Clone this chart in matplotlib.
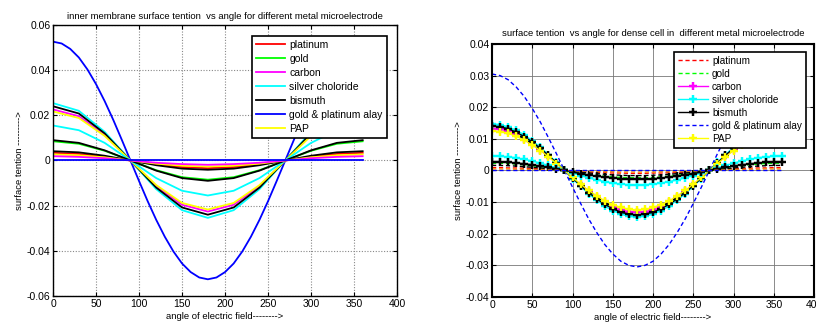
import matplotlib
matplotlib.use("Agg")
import matplotlib.pyplot as plt
from matplotlib.ticker import FixedLocator

plt.rcParams['font.family'] = ['Liberation Sans', 'DejaVu Sans']

# ---------------- data ----------------
labels = ["platinum", "gold", "carbon", "silver choloride", "bismuth",
          "gold & platinum alay", "PAP"]

# left panel: angle grid (coarse) and fine grid
angle_30 = [0, 30, 60, 90, 120, 150, 180, 210, 240, 270, 300, 330, 360]
angle_10 = [0, 10, 20, 30, 40, 50, 60, 70, 80, 90, 100, 110, 120, 130, 140, 150,
            160, 170, 180, 190, 200, 210, 220, 230, 240, 250, 260, 270, 280, 290,
            300, 310, 320, 330, 340, 350, 360]

L_platinum = [0.0034, 0.0029, 0.0017, 0, -0.0017, -0.0029, -0.0034, -0.0029, -0.0017, 0, 0.0017, 0.0029, 0.0034]
L_gold = [0.0085, 0.0074, 0.0043, 0, -0.0043, -0.0074, -0.0085, -0.0074, -0.0043, 0, 0.0043, 0.0074, 0.0085]
L_carbon = [0.0226, 0.0196, 0.0113, 0, -0.0113, -0.0196, -0.0226, -0.0196, -0.0113, 0, 0.0113, 0.0196, 0.0226]
L_silver = [0.0254, 0.0220, 0.0127, 0, -0.0127, -0.0220, -0.0254, -0.0220, -0.0127, 0, 0.0127, 0.0220, 0.0254]
L_bismuth = [0.0240, 0.0208, 0.0120, 0, -0.0120, -0.0208, -0.0240, -0.0208, -0.0120, 0, 0.0120, 0.0208, 0.0240]
L_alay = [0.0526, 0.0518, 0.0494, 0.0456, 0.0403, 0.0338, 0.0263, 0.0180, 0.0091, 0,
          -0.0091, -0.0180, -0.0263, -0.0338, -0.0403, -0.0456, -0.0494, -0.0518, -0.0526,
          -0.0518, -0.0494, -0.0456, -0.0403, -0.0338, -0.0263, -0.0180, -0.0091, 0,
          0.0091, 0.0180, 0.0263, 0.0338, 0.0403, 0.0456, 0.0494, 0.0518, 0.0526]
L_pap = [0.0217, 0.0188, 0.0109, 0, -0.0109, -0.0188, -0.0217, -0.0188, -0.0109, 0, 0.0109, 0.0188, 0.0217]
# extra curves (second columns)
L_silver2 = [0.0155, 0.0134, 0.0078, 0, -0.0078, -0.0134, -0.0155, -0.0134, -0.0078, 0, 0.0078, 0.0134, 0.0155]
L_bismuth2 = [0.0090, 0.0078, 0.0045, 0, -0.0045, -0.0078, -0.0090, -0.0078, -0.0045, 0, 0.0045, 0.0078, 0.0090]
L_bismuth3 = [0.0041, 0.0036, 0.0021, 0, -0.0021, -0.0036, -0.0041, -0.0036, -0.0021, 0, 0.0021, 0.0036, 0.0041]
L_pap2 = [0.0027, 0.0023, 0.0014, 0, -0.0014, -0.0023, -0.0027, -0.0023, -0.0014, 0, 0.0014, 0.0023, 0.0027]
L_carbon2 = [0.0019, 0.0016, 0.0010, 0, -0.0010, -0.0016, -0.0019, -0.0016, -0.0010, 0, 0.0010, 0.0016, 0.0019]
L_alay2 = [0, 0, 0, 0, 0, 0, 0, 0, 0, 0, 0, 0, 0]

# right panel (10 degree steps)
R_platinum = [0.0009, 0.0009, 0.0008, 0.0008, 0.0007, 0.0006, 0.0005, 0.0003, 0.0002, 0,
              -0.0002, -0.0003, -0.0005, -0.0006, -0.0007, -0.0008, -0.0008, -0.0009, -0.0009,
              -0.0009, -0.0008, -0.0008, -0.0007, -0.0006, -0.0005, -0.0003, -0.0002, 0,
              0.0002, 0.0003, 0.0005, 0.0006, 0.0007, 0.0008, 0.0008, 0.0009, 0.0009]
R_gold = [0.0023, 0.0023, 0.0022, 0.0020, 0.0018, 0.0015, 0.0012, 0.0008, 0.0004, 0,
          -0.0004, -0.0008, -0.0012, -0.0015, -0.0018, -0.0020, -0.0022, -0.0023, -0.0023,
          -0.0023, -0.0022, -0.0020, -0.0018, -0.0015, -0.0012, -0.0008, -0.0004, 0,
          0.0004, 0.0008, 0.0012, 0.0015, 0.0018, 0.0020, 0.0022, 0.0023, 0.0023]
R_carbon = [0.0132, 0.0130, 0.0124, 0.0114, 0.0101, 0.0085, 0.0066, 0.0045, 0.0023, 0,
            -0.0023, -0.0045, -0.0066, -0.0085, -0.0101, -0.0114, -0.0124, -0.0130, -0.0132,
            -0.0130, -0.0124, -0.0114, -0.0101, -0.0085, -0.0066, -0.0045, -0.0023, 0,
            0.0023, 0.0045, 0.0066, 0.0085, 0.0101, 0.0114, 0.0124, 0.0130, 0.0132]
R_silver = [0.0147, 0.0145, 0.0138, 0.0127, 0.0113, 0.0094, 0.0074, 0.0050, 0.0026, 0,
            -0.0026, -0.0050, -0.0074, -0.0094, -0.0113, -0.0127, -0.0138, -0.0145, -0.0147,
            -0.0145, -0.0138, -0.0127, -0.0113, -0.0094, -0.0074, -0.0050, -0.0026, 0,
            0.0026, 0.0050, 0.0074, 0.0094, 0.0113, 0.0127, 0.0138, 0.0145, 0.0147]
R_bismuth = [0.0140, 0.0138, 0.0132, 0.0121, 0.0107, 0.0090, 0.0070, 0.0048, 0.0024, 0,
             -0.0024, -0.0048, -0.0070, -0.0090, -0.0107, -0.0121, -0.0132, -0.0138, -0.0140,
             -0.0138, -0.0132, -0.0121, -0.0107, -0.0090, -0.0070, -0.0048, -0.0024, 0,
             0.0024, 0.0048, 0.0070, 0.0090, 0.0107, 0.0121, 0.0132, 0.0138, 0.0140]
R_alay = [0.0305, 0.0300, 0.0287, 0.0264, 0.0234, 0.0196, 0.0153, 0.0104, 0.0053, 0,
          -0.0053, -0.0104, -0.0153, -0.0196, -0.0234, -0.0264, -0.0287, -0.0300, -0.0305,
          -0.0300, -0.0287, -0.0264, -0.0234, -0.0196, -0.0153, -0.0104, -0.0053, 0,
          0.0053, 0.0104, 0.0153, 0.0196, 0.0234, 0.0264, 0.0287, 0.0300, 0.0305]
R_pap = [0.0125, 0.0123, 0.0117, 0.0108, 0.0096, 0.0080, 0.0063, 0.0043, 0.0022, 0,
         -0.0022, -0.0043, -0.0063, -0.0080, -0.0096, -0.0108, -0.0117, -0.0123, -0.0125,
         -0.0123, -0.0117, -0.0108, -0.0096, -0.0080, -0.0063, -0.0043, -0.0022, 0,
         0.0022, 0.0043, 0.0063, 0.0080, 0.0096, 0.0108, 0.0117, 0.0123, 0.0125]
R_silver2 = [0.0046, 0.0045, 0.0043, 0.0040, 0.0035, 0.0030, 0.0023, 0.0016, 0.0008, 0,
             -0.0008, -0.0016, -0.0023, -0.0030, -0.0035, -0.0040, -0.0043, -0.0045, -0.0046,
             -0.0045, -0.0043, -0.0040, -0.0035, -0.0030, -0.0023, -0.0016, -0.0008, 0,
             0.0008, 0.0016, 0.0023, 0.0030, 0.0035, 0.0040, 0.0043, 0.0045, 0.0046]
R_bismuth2 = [0.0028, 0.0028, 0.0026, 0.0024, 0.0021, 0.0018, 0.0014, 0.0010, 0.0005, 0,
              -0.0005, -0.0010, -0.0014, -0.0018, -0.0021, -0.0024, -0.0026, -0.0028, -0.0028,
              -0.0028, -0.0026, -0.0024, -0.0021, -0.0018, -0.0014, -0.0010, -0.0005, 0,
              0.0005, 0.0010, 0.0014, 0.0018, 0.0021, 0.0024, 0.0026, 0.0028, 0.0028]
R_bismuth3 = [0.0016, 0.0016, 0.0015, 0.0014, 0.0012, 0.0010, 0.0008, 0.0005, 0.0003, 0,
              -0.0003, -0.0005, -0.0008, -0.0010, -0.0012, -0.0014, -0.0015, -0.0016, -0.0016,
              -0.0016, -0.0015, -0.0014, -0.0012, -0.0010, -0.0008, -0.0005, -0.0003, 0,
              0.0003, 0.0005, 0.0008, 0.0010, 0.0012, 0.0014, 0.0015, 0.0016, 0.0016]
R_pap2 = [0.0005, 0.0005, 0.0005, 0.0004, 0.0004, 0.0003, 0.0003, 0.0002, 0.0001, 0,
          -0.0001, -0.0002, -0.0003, -0.0003, -0.0004, -0.0004, -0.0005, -0.0005, -0.0005,
          -0.0005, -0.0005, -0.0004, -0.0004, -0.0003, -0.0003, -0.0002, -0.0001, 0,
          0.0001, 0.0002, 0.0003, 0.0003, 0.0004, 0.0004, 0.0005, 0.0005, 0.0005]
R_alay2 = [0] * 37

x_ticks = [0, 50, 100, 150, 200, 250, 300, 350, 400]
left_yticks = [-0.06, -0.04, -0.02, 0, 0.02, 0.04, 0.06]
right_yticks = [-0.04, -0.03, -0.02, -0.01, 0, 0.01, 0.02, 0.03, 0.04]

RED, GREEN, MAG, CYAN, BLK, BLUE, YEL = "#ff0000", "#00ff00", "#ff00ff", "#00ffff", "#000000", "#0000ff", "#ffff00"

# ---------------- figure ----------------
fig = plt.figure(figsize=(8.16, 3.25), dpi=100)
axL = fig.add_axes([0.065, 0.0892, 0.4216, 0.834])
axR = fig.add_axes([0.603, 0.0862, 0.3946, 0.7785])

lw = 1.3
# left panel
axL.plot(angle_30, L_platinum, color=RED, lw=lw, label=labels[0])
axL.plot(angle_30, L_gold, color=GREEN, lw=lw, label=labels[1])
axL.plot(angle_30, L_carbon, color=MAG, lw=lw, label=labels[2])
axL.plot(angle_30, L_silver, color=CYAN, lw=lw, label=labels[3])
axL.plot(angle_30, L_bismuth, color=BLK, lw=lw, label=labels[4])
axL.plot(angle_10, L_alay, color=BLUE, lw=lw, label=labels[5])
axL.plot(angle_30, L_pap, color=YEL, lw=lw, label=labels[6])
axL.plot(angle_30, L_silver2, color=CYAN, lw=lw)
axL.plot(angle_30, L_bismuth2, color=BLK, lw=lw)
axL.plot(angle_30, L_bismuth3, color=BLK, lw=lw)
axL.plot(angle_30, L_pap2, color=YEL, lw=lw)
axL.plot(angle_30, L_carbon2, color=MAG, lw=lw)
axL.plot(angle_30, L_alay2, color=BLUE, lw=lw)

# right panel
mk = dict(marker=(4, 2, 0), markersize=5.5, markeredgewidth=1.6)
axR.plot(angle_10, R_platinum, color=RED, lw=1.0, ls=(0, (3, 2)), label=labels[0])
axR.plot(angle_10, R_gold, color=GREEN, lw=1.0, ls=(0, (3, 2)), label=labels[1])
axR.plot(angle_10, R_carbon, color=MAG, lw=1.0, label=labels[2], **mk)
axR.plot(angle_10, R_silver, color=CYAN, lw=1.0, label=labels[3], **mk)
axR.plot(angle_10, R_bismuth, color=BLK, lw=1.0, label=labels[4], **mk)
axR.plot(angle_10, R_alay, color=BLUE, lw=1.0, ls=(0, (3, 2)), label=labels[5])
axR.plot(angle_10, R_pap, color=YEL, lw=1.0, label=labels[6], **mk)
axR.plot(angle_10, R_silver2, color=CYAN, lw=1.0, **mk)
axR.plot(angle_10, R_bismuth2, color=BLK, lw=1.0, **mk)
axR.plot(angle_10, R_bismuth3, color=BLK, lw=1.0, ls=(0, (3, 2)))
axR.plot(angle_10, R_pap2, color="#ff9900", lw=1.0, ls=(0, (3, 2)))
axR.plot(angle_10, R_alay2, color=BLUE, lw=1.0, ls=(0, (3, 2)))

for ax, yt, ylim in ((axL, left_yticks, (-0.06, 0.06)), (axR, right_yticks, (-0.04, 0.04))):
    ax.set_xlim(0, 400)
    ax.set_ylim(*ylim)
    ax.xaxis.set_major_locator(FixedLocator(x_ticks))
    ax.yaxis.set_major_locator(FixedLocator(yt))
    ax.set_xticklabels([str(v) for v in x_ticks])
    ax.set_yticklabels(["0" if v == 0 else f"{v:g}" for v in yt])
    ax.tick_params(direction="in", top=True, right=True, labelsize=7.5, length=3, width=0.8, pad=2)
    ax.set_xlabel("angle of electric field-------->", fontsize=6.8, labelpad=2)
    ax.set_ylabel("surface tention --------->", fontsize=6.8, labelpad=2)

axL.grid(True, color="#888888", ls=(0, (1, 1.5)), lw=0.8)
axR.grid(True, color="#777777", ls="-", lw=0.6)
for s in axL.spines.values():
    s.set_linewidth(1.0)
for s in axR.spines.values():
    s.set_linewidth(1.5)

axL.set_title("inner membrane surface tention  vs angle for different metal microelectrode",
              fontsize=6.8, pad=4)
axR.set_title("surface tention  vs angle for dense cell in  different metal microelectrode",
              fontsize=6.8, pad=6)

legL = axL.legend(loc="upper right", bbox_to_anchor=(0.985, 0.98), fontsize=7.5,
                  handlelength=2.8, handletextpad=0.4, labelspacing=0.38,
                  borderpad=0.4, fancybox=False, framealpha=1, edgecolor="black")
legL.get_frame().set_linewidth(1.2)
legR = axR.legend(loc="upper right", bbox_to_anchor=(0.99, 0.99), fontsize=7.2,
                  handlelength=3.0, handletextpad=0.4, labelspacing=0.3,
                  borderpad=0.4, fancybox=False, framealpha=1, edgecolor="black")
legR.get_frame().set_linewidth(1.2)

fig.savefig("out.png", dpi=100)
